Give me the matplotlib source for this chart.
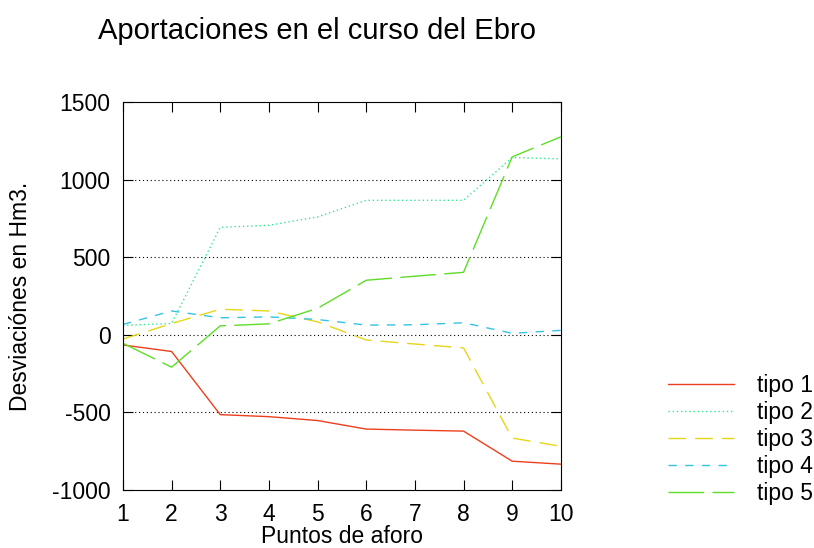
import matplotlib
matplotlib.use("Agg")
import matplotlib.pyplot as plt

plt.rcParams["font.family"] = ["Liberation Sans", "DejaVu Sans"]
plt.rcParams["axes.unicode_minus"] = False

puntos = [1, 2, 3, 4, 5, 6, 7, 8, 9, 10]
tipo1 = [-66, -108, -515, -528, -553, -608, -615, -621, -815, -834]
tipo2 = [60, 72, 692, 705, 759, 866, 866, 866, 1142, 1133]
tipo3 = [-28, 72, 164, 153, 83, -34, -60, -85, -666, -719]
tipo4 = [66, 153, 109, 115, 98, 62, 64, 77, 9, 28]
tipo5 = [-55, -209, 57, 70, 170, 351, 377, 402, 1146, 1275]

series = [
    ("tipo 1", tipo1, "#ee3f1c", (None, None)),
    ("tipo 2", tipo2, "#33e890", (1.0, 2.0)),
    ("tipo 3", tipo3, "#e6d61a", (12.7, 6.5)),
    ("tipo 4", tipo4, "#33c4e6", (6.0, 6.0)),
    ("tipo 5", tipo5, "#5edd26", (25.7, 6.0)),
]

FS = 16.5

fig = plt.figure(figsize=(8.14, 5.48), dpi=100)
ax = fig.add_axes([0.151, 0.106, 0.538, 0.708])

for name, vals, col, dash in series:
    ln, = ax.plot(puntos, vals, color=col, lw=1.0, label=name)
    if dash[0] is not None:
        ln.set_dashes(dash)

ax.set_xlim(1, 10)
ax.set_ylim(-1000, 1500)
ax.set_xticks(puntos)
ax.set_yticks([-1000, -500, 0, 500, 1000, 1500])
for yv in (-500, 0, 500, 1000):
    ax.axhline(yv, color="black", lw=0.8, ls=(0, (1, 2.5)), zorder=0)
ax.tick_params(direction="in", top=True, right=True, length=7, width=0.8,
               labelsize=FS)
ax.tick_params(axis="x", pad=9.5)
ax.tick_params(axis="y", pad=9)
for s in ax.spines.values():
    s.set_linewidth(0.8)

ax.set_xlabel("Puntos de aforo", fontsize=FS, labelpad=-1)
ax.set_ylabel("Desviaciónes en Hm3.", fontsize=FS, labelpad=14)
fig.text(0.389, 0.943, "Aportaciones en el curso del Ebro", ha="center",
         va="center", fontsize=21)

ax.legend(loc="lower left", bbox_to_anchor=(0.821, 0.079),
          bbox_transform=fig.transFigure, frameon=False, fontsize=FS,
          handlelength=2.85, handletextpad=1.0, labelspacing=0.17,
          borderpad=0, borderaxespad=0)

fig.savefig("out.png", dpi=100)
